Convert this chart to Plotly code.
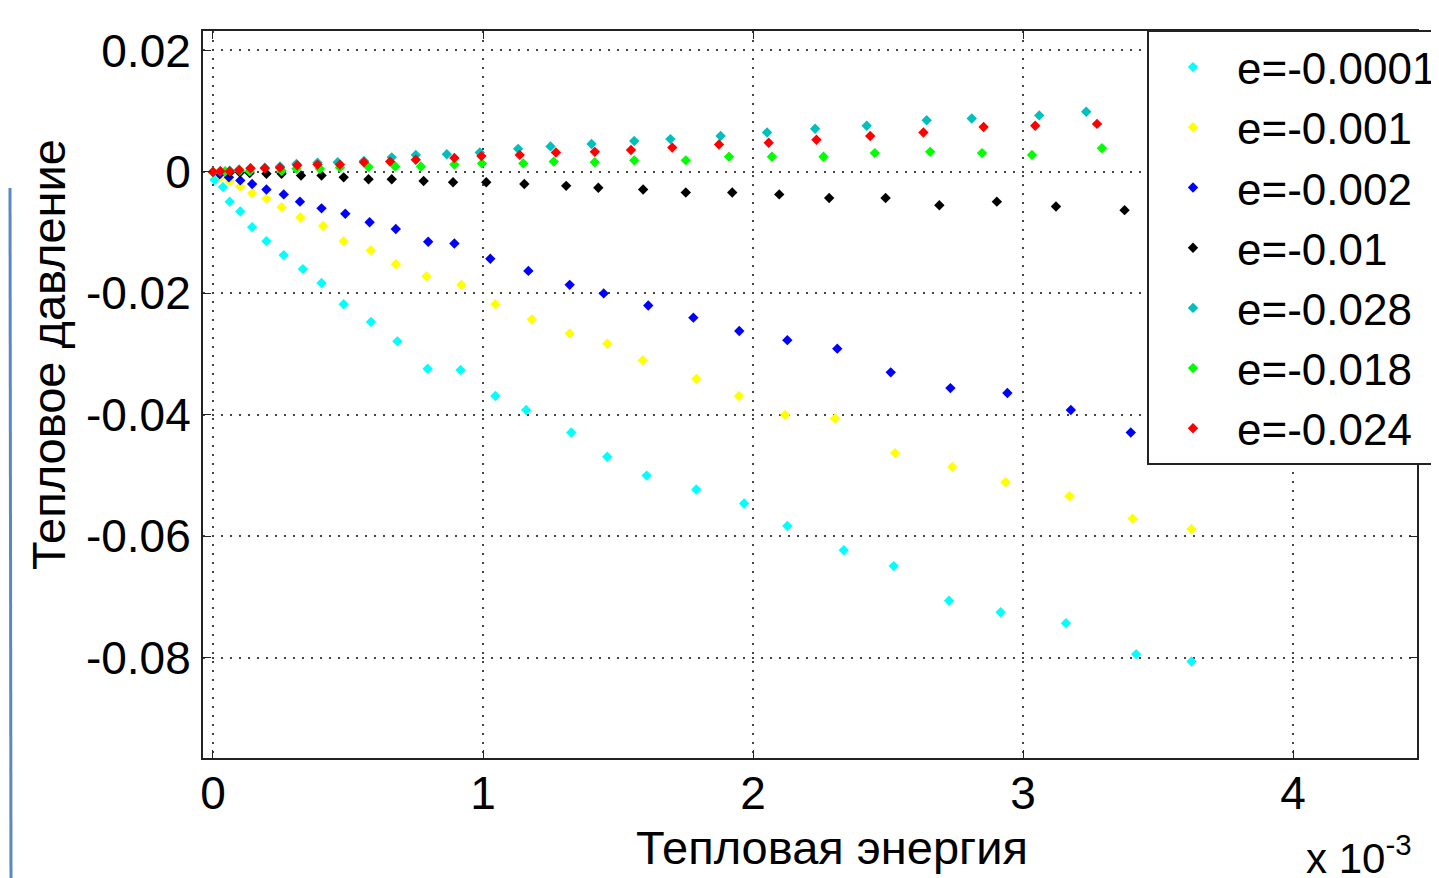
import plotly.graph_objects as go

# Thermal energy (units of 1e-3) and thermal pressure for each series
x_e0001 = [0, 0.006, 0.037, 0.062, 0.101, 0.145, 0.198, 0.262, 0.333, 0.402, 0.484, 0.585, 0.683, 0.795, 0.917,
           1.046, 1.160, 1.327, 1.460, 1.606, 1.790, 1.967, 2.127, 2.336, 2.521, 2.726, 2.917, 3.159, 3.419, 3.624]
y_e0001 = [0, -0.0013, -0.0025, -0.0049, -0.0065, -0.0091, -0.0114, -0.0137, -0.0160, -0.0183, -0.0218, -0.0247,
           -0.0279, -0.0324, -0.0326, -0.0369, -0.0392, -0.0429, -0.0469, -0.0500, -0.0523, -0.0546, -0.0583,
           -0.0623, -0.0649, -0.0706, -0.0725, -0.0743, -0.0794, -0.0806]

x_e001 = [0, 0.030, 0.062, 0.101, 0.145, 0.198, 0.254, 0.324, 0.408, 0.484, 0.585, 0.677, 0.791, 0.920, 1.046,
          1.181, 1.321, 1.460, 1.592, 1.790, 1.948, 2.119, 2.304, 2.526, 2.738, 2.935, 3.172, 3.406, 3.624]
y_e001 = [0, -0.0008, -0.0016, -0.0024, -0.0035, -0.0044, -0.0058, -0.0075, -0.0089, -0.0114, -0.0129, -0.0152,
          -0.0172, -0.0186, -0.0218, -0.0243, -0.0266, -0.0283, -0.0310, -0.0341, -0.0369, -0.0400, -0.0406,
          -0.0463, -0.0486, -0.0511, -0.0534, -0.0571, -0.0588]

x_e002 = [0, 0.025, 0.059, 0.101, 0.145, 0.198, 0.262, 0.322, 0.402, 0.490, 0.580, 0.677, 0.797, 0.894, 1.027,
          1.168, 1.321, 1.447, 1.612, 1.779, 1.949, 2.127, 2.312, 2.510, 2.731, 2.942, 3.177, 3.399]
y_e002 = [0, -0.0004, -0.0009, -0.0014, -0.0020, -0.0029, -0.0037, -0.0049, -0.0060, -0.0069, -0.0083, -0.0094,
          -0.0115, -0.0118, -0.0143, -0.0163, -0.0186, -0.0200, -0.0220, -0.0240, -0.0262, -0.0277, -0.0291,
          -0.0330, -0.0356, -0.0364, -0.0392, -0.0429]

x_e01 = [0, 0.062, 0.100, 0.136, 0.198, 0.254, 0.326, 0.402, 0.484, 0.576, 0.662, 0.780, 0.889, 1.012, 1.153,
         1.308, 1.427, 1.593, 1.751, 1.923, 2.097, 2.282, 2.491, 2.690, 2.903, 3.122, 3.376]
y_e01 = [0, -0.0001, -0.0001, -0.0002, -0.0003, -0.0003, -0.0006, -0.0006, -0.0009, -0.0012, -0.0012, -0.0015,
         -0.0017, -0.0017, -0.0020, -0.0023, -0.0026, -0.0029, -0.0034, -0.0034, -0.0037, -0.0043, -0.0043,
         -0.0055, -0.0049, -0.0057, -0.0063]

x_e028 = [0, 0.027, 0.062, 0.097, 0.139, 0.192, 0.248, 0.309, 0.387, 0.462, 0.559, 0.662, 0.751, 0.866, 0.988,
          1.130, 1.250, 1.402, 1.560, 1.694, 1.880, 2.052, 2.230, 2.421, 2.643, 2.810, 3.060, 3.234]
y_e028 = [0, 0.0001, 0.0002, 0.0004, 0.0006, 0.0007, 0.0009, 0.0013, 0.0015, 0.0016, 0.0018, 0.0024, 0.0028,
          0.0029, 0.0032, 0.0038, 0.0042, 0.0046, 0.0051, 0.0054, 0.0059, 0.0065, 0.0071, 0.0076, 0.0085,
          0.0088, 0.0093, 0.0099]

x_e018 = [0, 0.045, 0.099, 0.136, 0.254, 0.309, 0.396, 0.470, 0.576, 0.675, 0.770, 0.894, 0.996, 1.149, 1.262,
          1.414, 1.560, 1.751, 1.911, 2.070, 2.261, 2.451, 2.656, 2.848, 3.033, 3.292]
y_e018 = [0, 0.0001, 0.0002, 0.0001, 0.0002, 0.0005, 0.0005, 0.0007, 0.0008, 0.0009, 0.0009, 0.0012, 0.0014,
          0.0014, 0.0017, 0.0016, 0.0019, 0.0019, 0.0025, 0.0025, 0.0025, 0.0031, 0.0033, 0.0031, 0.0028, 0.0039]

x_e024 = [0, 0.027, 0.062, 0.097, 0.139, 0.192, 0.248, 0.312, 0.387, 0.470, 0.559, 0.656, 0.751, 0.894, 0.994,
          1.136, 1.270, 1.414, 1.548, 1.701, 1.874, 2.058, 2.235, 2.434, 2.631, 2.854, 3.045, 3.274]
y_e024 = [0, 0.0001, 0.0001, 0.0003, 0.0006, 0.0006, 0.0007, 0.0011, 0.0012, 0.0012, 0.0016, 0.0017, 0.0020,
          0.0023, 0.0026, 0.0028, 0.0032, 0.0033, 0.0036, 0.0040, 0.0045, 0.0048, 0.0053, 0.0059, 0.0065,
          0.0074, 0.0076, 0.0079]

series = [
    ("e=-0.0001", x_e0001, y_e0001, "#00FFFF"),
    ("e=-0.001", x_e001, y_e001, "#FFFF00"),
    ("e=-0.002", x_e002, y_e002, "#0000FF"),
    ("e=-0.01", x_e01, y_e01, "#000000"),
    ("e=-0.028", x_e028, y_e028, "#00BFBF"),
    ("e=-0.018", x_e018, y_e018, "#00FF00"),
    ("e=-0.024", x_e024, y_e024, "#FF0000"),
]

x_ticks = [0, 1, 2, 3, 4]
x_ticktext = ["0", "1", "2", "3", "4"]
y_ticks = [0.02, 0, -0.02, -0.04, -0.06, -0.08]
y_ticktext = ["0.02", "0", "-0.02", "-0.04", "-0.06", "-0.08"]

FONT = "Liberation Sans, Arial, sans-serif"

# page body has an 8px margin; figure is sized so its right/bottom edges meet the window edges
W, H = 1431, 870
L, R, T, B = 195, 22, 23, 120
PW, PH = W - L - R, H - T - B


def px_x(page_x):
    return (page_x - 8 - L) / PW


def px_y(page_y):
    return (H - B - (page_y - 8)) / PH


fig = go.Figure()
for name, xs, ys, col in series:
    fig.add_trace(go.Scatter(
        x=xs, y=ys, mode="markers", name=name,
        marker=dict(symbol="diamond", size=8, color=col, line=dict(width=0)),
    ))

axis_common = dict(
    showline=True, linecolor="#222222", linewidth=2, mirror="allticks",
    ticks="inside", ticklen=8, tickcolor="#222222", tickwidth=1,
    showgrid=True, gridcolor="#444444", griddash="2px,7px", gridwidth=1.5,
    zeroline=False, tickfont=dict(family=FONT, size=46, color="black"),
)

fig.update_xaxes(range=[-0.037, 4.459], tickvals=x_ticks, ticktext=x_ticktext,
                 ticklabelstandoff=-6, **axis_common)
fig.update_yaxes(range=[-0.0965, 0.0232], tickvals=y_ticks, ticktext=y_ticktext,
                 ticklabelstandoff=1, **axis_common)

fig.add_annotation(text="Тепловая энергия", xref="paper", yref="paper",
                   x=px_x(832), y=px_y(847), showarrow=False,
                   xanchor="center", yanchor="middle",
                   font=dict(family=FONT, size=47, color="black"))
fig.add_annotation(text="Тепловое давление", xref="paper", yref="paper",
                   x=px_x(48), y=px_y(355), showarrow=False, textangle=-90,
                   xanchor="center", yanchor="middle",
                   font=dict(family=FONT, size=47, color="black"))
fig.add_annotation(text="x 10<sup>-3</sup>", xref="paper", yref="paper",
                   x=px_x(1359), y=px_y(855), showarrow=False,
                   xanchor="center", yanchor="middle",
                   font=dict(family=FONT, size=42, color="black"))

# slide decoration line near the left edge
fig.add_shape(type="line", xref="paper", yref="paper",
              x0=px_x(10), x1=px_x(11),
              y0=px_y(188), y1=px_y(880),
              line=dict(color="#5a87c5", width=3))

fig.update_layout(
    width=W, height=H,
    margin=dict(l=L, r=R, t=T, b=B, autoexpand=False),
    paper_bgcolor="white", plot_bgcolor="white",
    showlegend=True,
    legend=dict(x=px_x(1147), y=px_y(30), xanchor="left", yanchor="top",
                bgcolor="white", bordercolor="#222222", borderwidth=2,
                font=dict(family=FONT, size=44, color="black"),
                itemsizing="trace", itemwidth=78, tracegroupgap=0),
)

fig.write_html("out.html")
